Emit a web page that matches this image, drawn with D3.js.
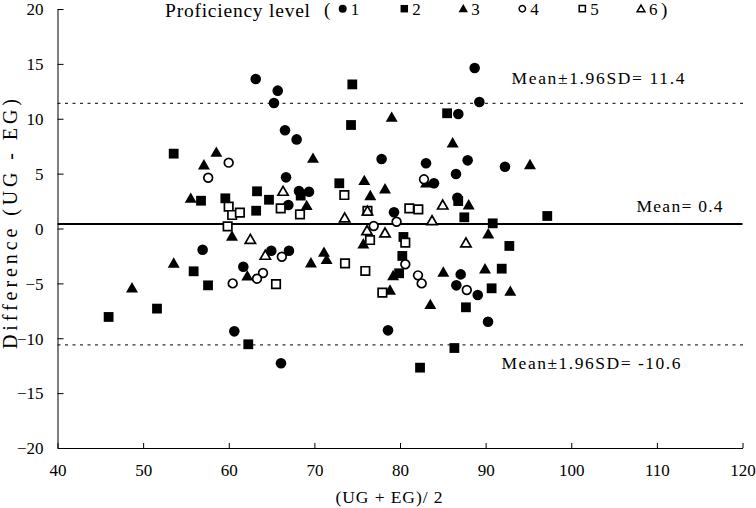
<!DOCTYPE html>
<html><head><meta charset="utf-8">
<script src="https://cdn.jsdelivr.net/npm/d3@7"></script>
<style>
body{margin:0;background:#fff;}
svg{display:block;font-family:"Liberation Serif","DejaVu Serif",serif;}
</style></head>
<body><svg id="c" width="756" height="508"></svg>
<script>
// ---- data ----
const xTicks = [40,50,60,70,80,90,100,110,120];
const yTicks = [-20,-15,-10,-5,0,5,10,15,20];
const meanDiff = 0.4;
const upperLoA = 11.4;
const lowerLoA = -10.6;
const levelLabels = ["1","2","3","4","5","6"];

const level1 = [[63.15,13.62],[65.72,12.56],[65.28,11.43],[66.57,8.95],[67.93,8.12],[88.72,14.62],[89.27,11.53],[86.81,10.43],[77.85,6.33],[83.04,5.94],[87.9,6.21],[92.26,5.63],[86.54,4.97],[83.97,4.12],[86.7,2.8],[79.3,1.48],[66.69,4.66],[66.96,2.14],[68.2,3.42],[69.37,3.35],[56.95,-1.93],[64.97,-2.02],[67.03,-2.02],[61.7,-3.48],[87.09,-4.18],[86.58,-5.18],[89.08,-6.06],[60.65,-9.37],[66.1,-12.28],[78.6,-9.28],[90.28,-8.49]];
const level2 = [[53.57,6.82],[74.43,13.13],[85.5,10.5],[74.28,9.43],[72.91,4.12],[86.8,2.5],[87.51,1.02],[90.83,0.47],[97.2,1.14],[56.76,2.53],[59.6,2.75],[63.3,3.39],[64.7,2.62],[63.2,1.62],[68.4,3.0],[80.4,-0.77],[92.77,-1.59],[80.27,-2.5],[79.9,-4.08],[91.88,-3.66],[90.7,-5.45],[87.7,-7.18],[55.9,-3.9],[57.58,-5.18],[51.62,-7.3],[45.97,-8.06],[62.28,-10.55],[86.35,-10.89],[82.34,-12.68]];
const level3 = [[58.55,6.85],[57.1,5.7],[79.03,10.04],[86.15,7.7],[69.84,6.3],[95.18,5.72],[75.83,4.27],[78.25,3.51],[83.04,4.05],[76.53,2.9],[88.02,2.05],[55.56,2.66],[69.1,1.99],[60.38,-0.8],[75.72,-1.5],[90.31,-0.59],[71.12,-2.26],[71.43,-2.93],[69.6,-3.23],[53.57,-3.26],[62.17,-4.42],[79.2,-4.39],[85.06,-4.08],[89.93,-3.78],[92.88,-5.82],[78.83,-5.72],[83.54,-7.03],[48.7,-5.51]];
const level4 = [[59.99,6.0],[57.6,4.63],[82.8,4.48],[79.6,0.62],[76.93,0.23],[66.2,-2.57],[80.62,-3.26],[64.0,-4.05],[63.3,-4.57],[60.46,-5.0],[82.1,-4.27],[82.53,-5.0],[87.8,-5.6]];
const level5 = [[59.99,1.99],[60.4,1.23],[61.3,1.44],[59.87,0.2],[66.07,1.84],[68.32,1.29],[73.5,3.05],[81.09,1.84],[82.14,1.75],[76.2,1.6],[76.5,-1.05],[80.62,-1.29],[73.58,-3.17],[75.95,-3.87],[65.52,-5.06],[77.94,-5.85]];
const level6 = [[66.34,3.3],[62.52,-1.08],[64.27,-2.53],[84.99,2.05],[76.2,1.5],[73.54,0.87],[83.74,0.62],[76.15,-0.29],[78.25,-0.5],[87.7,-1.41]];
const levels = [level1,level2,level3,level4,level5,level6];

// ---- drawing ----
const svg = d3.select("#c");
const x = d3.scaleLinear().domain([40,120]).range([57.5,742.5]);
const y = d3.scaleLinear().domain([-20,20]).range([448,9]);

const styles = [
  {type:d3.symbolCircle, size:88, fill:"#000", stroke:"none", sw:0, lsize:50},
  {type:d3.symbolSquare, size:96, fill:"#000", stroke:"none", sw:0, lsize:56},
  {type:d3.symbolTriangle, size:62, fill:"#000", stroke:"none", sw:0, lsize:38},
  {type:d3.symbolCircle, size:60, fill:"#fff", stroke:"#000", sw:1.7, lsize:32},
  {type:d3.symbolSquare, size:72, fill:"#fff", stroke:"#000", sw:1.7, lsize:38},
  {type:d3.symbolTriangle, size:46, fill:"#fff", stroke:"#000", sw:1.7, lsize:26}
];

// reference lines
svg.append("line").attr("x1",x(40)).attr("x2",x(120.3)).attr("y1",y(upperLoA)).attr("y2",y(upperLoA))
  .attr("stroke","#333").attr("stroke-width",1.2).attr("stroke-dasharray","3,4.5");
svg.append("line").attr("x1",x(40)).attr("x2",x(120.3)).attr("y1",y(lowerLoA)).attr("y2",y(lowerLoA))
  .attr("stroke","#333").attr("stroke-width",1.2).attr("stroke-dasharray","3,4.5");
svg.append("line").attr("x1",x(40)).attr("x2",x(120)).attr("y1",y(meanDiff)).attr("y2",y(meanDiff))
  .attr("stroke","#000").attr("stroke-width",2);

// axes
const xAxis = d3.axisBottom(x).tickValues(xTicks).tickSizeInner(-5).tickSizeOuter(0).tickPadding(16);
const gx = svg.append("g").attr("transform",`translate(0,${y(-20)})`).call(xAxis);
gx.attr("font-family","Liberation Serif");
gx.selectAll("text").attr("font-size",17).attr("fill","#000");
gx.selectAll("line,path").attr("stroke","#000");

const yAxis = d3.axisLeft(y).tickValues(yTicks).tickSizeInner(-6).tickSizeOuter(0).tickPadding(14);
const gy = svg.append("g").attr("transform",`translate(${x(40)},0)`).call(yAxis);
gy.attr("font-family","Liberation Serif");
gy.selectAll("text").attr("font-size",17).attr("fill","#000").attr("dy","0.34em");
gy.selectAll("line,path").attr("stroke","#000");

// points
levels.forEach((pts,i)=>{
  const s = styles[i];
  svg.append("g").selectAll("path").data(pts).join("path")
    .attr("d", d3.symbol().type(s.type).size(s.size))
    .attr("transform", d=>`translate(${x(d[0])},${y(d[1])})`)
    .attr("fill", s.fill).attr("stroke", s.stroke).attr("stroke-width", s.sw);
});

// annotation texts
svg.append("text").attr("x",511.5).attr("y",84).attr("font-size",17.5)
  .attr("textLength",173).attr("lengthAdjust","spacing").text("Mean±1.96SD= 11.4");
svg.append("text").attr("x",636.5).attr("y",212).attr("font-size",17.5)
  .attr("textLength",86).attr("lengthAdjust","spacing").text("Mean= 0.4");
svg.append("text").attr("x",501.5).attr("y",369).attr("font-size",17.5)
  .attr("textLength",179).attr("lengthAdjust","spacing").text("Mean±1.96SD= -10.6");

// axis titles
svg.append("text").attr("x",389).attr("y",503).attr("text-anchor","middle").attr("font-size",17.5)
  .attr("textLength",107).attr("lengthAdjust","spacing").text("(UG + EG)/ 2");
svg.append("text").attr("transform","translate(17,224) rotate(-90)").attr("text-anchor","middle").attr("font-size",20)
  .attr("textLength",250).attr("lengthAdjust","spacing").text("Difference (UG - EG)");

// legend
svg.append("text").attr("x",165).attr("y",16.5).attr("font-size",19.5)
  .attr("textLength",145).attr("lengthAdjust","spacing").text("Proficiency level");
svg.append("text").attr("x",324).attr("y",16).attr("font-size",19).text("(");
svg.append("text").attr("x",661).attr("y",16).attr("font-size",19).text(")");
const legX = [342.7,404.3,463.3,522.3,582.3,641];
levelLabels.forEach((lab,i)=>{
  const s = styles[i];
  svg.append("path").attr("d", d3.symbol().type(s.type).size(s.lsize))
    .attr("transform",`translate(${legX[i]},${i===2||i===5?9.5:8.7})`)
    .attr("fill", s.fill).attr("stroke", s.stroke).attr("stroke-width", s.sw ? 1.5 : 0);
  svg.append("text").attr("x",legX[i]+8).attr("y",14.5).attr("font-size",17).text(lab);
});
</script></body></html>
